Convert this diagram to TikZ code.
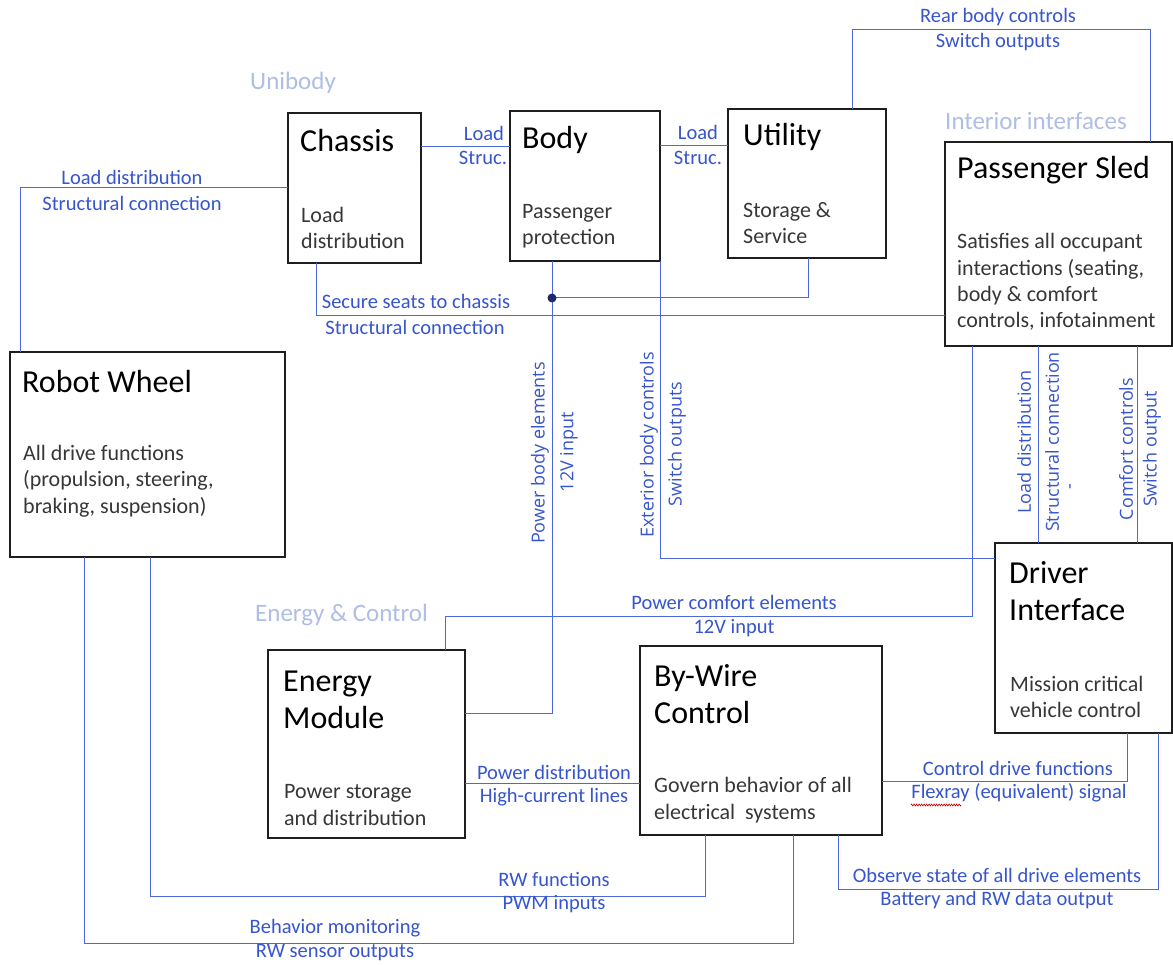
\documentclass[tikz,border=0pt]{standalone}
\usepackage{fontspec}
\setmainfont{Carlito}
\newfontfamily\vfont{Open Sans}
\usetikzlibrary{decorations.pathmorphing}
\definecolor{wire}{RGB}{75,105,220}
\definecolor{lbl}{RGB}{55,85,205}
\definecolor{faint}{RGB}{175,190,228}
\definecolor{frame}{RGB}{30,30,30}
\definecolor{bodytxt}{RGB}{55,55,55}
\definecolor{navy}{RGB}{30,40,110}
\begin{document}
\begin{tikzpicture}[x=1pt,y=-1pt,
  box/.style={draw=frame, line width=1.6pt, anchor=north west, inner sep=0pt, outer sep=0pt},
  ttl/.style={anchor=west, inner sep=0pt, font=\fontsize{32}{37}\selectfont, text=black, align=left},
  dsc/.style={anchor=west, inner sep=0pt, font=\fontsize{22}{26.3}\selectfont, text=bodytxt, align=left},
  lab/.style={inner sep=0pt, font=\fontsize{20.5}{25}\selectfont, text=lbl},
  vlab/.style={inner sep=0pt, rotate=90, font=\vfont\fontsize{18}{20}\selectfont, text=lbl},
  grp/.style={anchor=west, inner sep=0pt, font=\fontsize{25}{28}\selectfont, text=faint},
  wire/.style={draw=wire, line width=1pt}]
\useasboundingbox (0,0) rectangle (1173,965);
\fill[white] (0,0) rectangle (1173,965);

% group labels
\node[grp] (gUni) at (250,83) {Unibody};
\node[grp] (gInt) at (945,121) {Interior interfaces};
\node[grp] (gEn) at (255,615) {Energy \& Control};

% boxes
\node[box, minimum width=133pt, minimum height=150pt] (chassis) at (288,113) {};
\node[box, minimum width=150pt, minimum height=150pt] (body) at (510,111) {};
\node[box, minimum width=158pt, minimum height=149pt] (utility) at (728,109) {};
\node[box, minimum width=227pt, minimum height=204pt] (sled) at (945,142) {};
\node[box, minimum width=275pt, minimum height=205pt] (robot) at (10,352) {};
\node[box, minimum width=177pt, minimum height=190pt] (driver) at (995,543) {};
\node[box, minimum width=197pt, minimum height=188pt] (energy) at (268,650) {};
\node[box, minimum width=242pt, minimum height=189pt] (bywire) at (640,646) {};

% box texts
\node[ttl] (tChassis) at (300,141) {Chassis};
\node[dsc] (dChassis) at (301,228) {Load\\distribution};
\node[ttl] (tBody) at (522,140) {Body};
\node[dsc] (dBody) at (522,226) {Passenger\\protection};
\node[ttl] (tUtil) at (743,137) {Utility};
\node[dsc] (dUtil) at (743,223) {Storage \&\\Service};
\node[ttl] (tSled) at (957,170) {Passenger Sled};
\node[dsc] (dSled) at (957,282) {Satisfies all occupant\\interactions (seating,\\body \& comfort\\controls, infotainment};
\node[ttl] (tRobot) at (22,382) {Robot Wheel};
\node[dsc] (dRobot) at (23,481) {All drive functions\\(propulsion, steering,\\braking, suspension)};
\node[ttl] (tDriver) at (1009,591) {Driver\\Interface};
\node[dsc] (dDriver) at (1010,697) {Mission critical\\vehicle control};
\node[ttl] (tEnergy) at (283,700) {Energy\\Module};
\node[dsc] (dEnergy) at (284,805) {Power storage\\and distribution};
\node[ttl] (tWire) at (654,694) {By-Wire\\Control};
\node[dsc] (dWire) at (654,800) {Govern behavior of all\\electrical\ \ systems};

% connectors
\draw[wire] (chassis.east |- 0,147) -- (body.west |- 0,147);
\draw[wire] (body.east |- 0,146) -- (utility.west |- 0,146);
\draw[wire] (chassis.west |- 0,188) -| (20,0 |- robot.north);
\draw[wire] (utility.north -| 852,0) |- (1150,30) -- (sled.north -| 1150,0);
\draw[wire] (chassis.south -| 316,0) |- (sled.west |- 0,316);
\coordinate (jn) at (552,298);
\draw[wire] (utility.south -| 808,0) |- (jn);
\draw[wire] (body.south -| 552,0) |- (energy.east |- 0,713);
\fill[navy] (jn) circle (4.5pt);
\draw[wire] (body.south -| 660,0) |- (driver.west |- 0,558);
\draw[wire] (sled.south -| 972,0) |- (445,616) -- (energy.north -| 445,0);
\draw[wire] (sled.south -| 1038,0) -- (driver.north -| 1038,0);
\draw[wire] (sled.south -| 1137,0) -- (driver.north -| 1137,0);
\draw[wire] (energy.east |- 0,783) -- (bywire.west |- 0,783);
\draw[wire] (bywire.east |- 0,781) -| (driver.south -| 1127,0);
\draw[wire] (bywire.south -| 838,0) |- (1158,889) -- (driver.south -| 1158,0);
\draw[wire] (robot.south -| 150,0) |- (705,896) -- (bywire.south -| 705,0);
\draw[wire] (robot.south -| 84,0) |- (793,943) -- (bywire.south -| 793,0);

% connector labels
\node[lab] (l1a) at (484,133) {Load};
\node[lab] (l1b) at (483,158) {Struc.};
\node[lab] (l2a) at (698,132) {Load};
\node[lab] (l2b) at (698,158) {Struc.};
\node[lab] (l3a) at (132,177) {Load distribution};
\node[lab] (l3b) at (132,203) {Structural connection};
\node[lab] (l4a) at (998,17) {Rear body controls};
\node[lab] (l4b) at (998,42) {Switch outputs};
\node[lab] (l5a) at (416,301) {Secure seats to chassis};
\node[lab] (l5b) at (415,327) {Structural connection};
\node[lab] (l6a) at (734,602) {Power comfort elements};
\node[lab] (l6b) at (734,628) {12V input};
\node[lab] (l7a) at (554,772) {Power distribution};
\node[lab] (l7b) at (554,797) {High-current lines};
\node[lab] (l8a) at (1018,768) {Control drive functions};
\node[lab] (l8b) at (1019,793) {Flexray (equivalent) signal};
\draw[red!80!black, line width=0.6pt, decorate, decoration={zigzag, amplitude=1pt, segment length=2.5pt}] (911,805) -- (961,805);
\node[lab] (l9a) at (997,875) {Observe state of all drive elements};
\node[lab] (l9b) at (997,900) {Battery and RW data output};
\node[lab] (l10a) at (554,879) {RW functions};
\node[lab] (l10b) at (554,904) {PWM inputs};
\node[lab] (l11a) at (335,928) {Behavior monitoring};
\node[lab] (l11b) at (335,953) {RW sensor outputs};

% vertical labels
\node[vlab] (v1a) at (540,453) {Power body elements};
\node[vlab] (v1b) at (569,452) {12V input};
\node[vlab] (v2a) at (649,445) {Exterior body controls};
\node[vlab] (v2b) at (677,444) {Switch outputs};
\node[vlab] (v3a) at (1024,442) {Load distribution};
\node[vlab] (v3b) at (1052,442) {Structural connection};
\node[vlab] (v3c) at (1072,487) {-};
\node[vlab] (v4a) at (1126,449) {Comfort controls};
\node[vlab] (v4b) at (1152,449) {Switch output};
\end{tikzpicture}
\end{document}
